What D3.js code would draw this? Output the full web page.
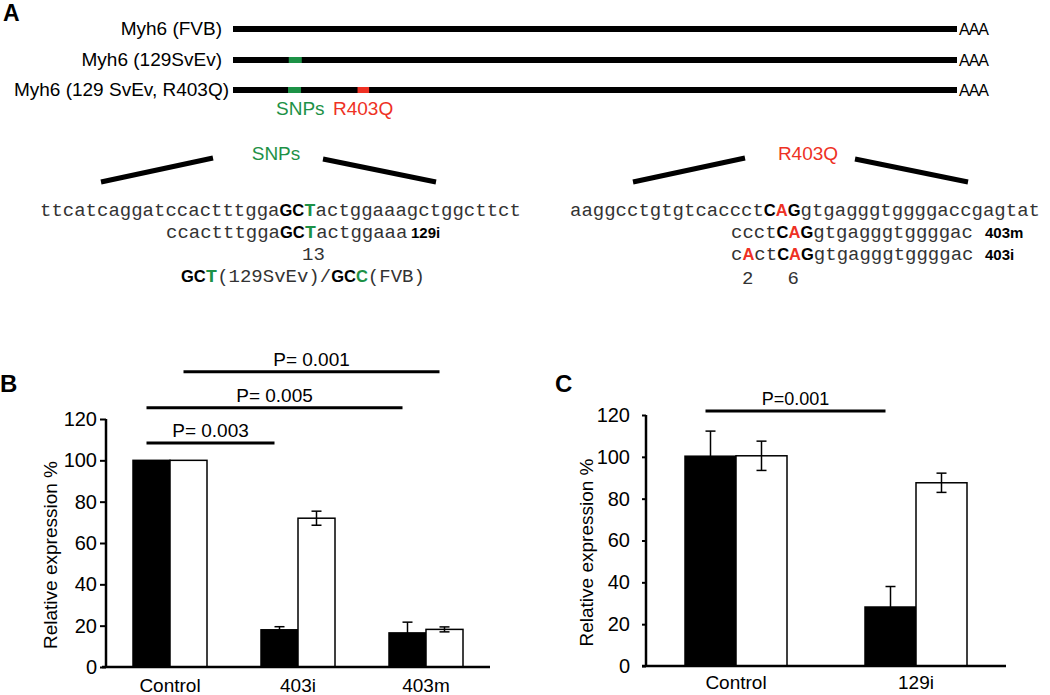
<!DOCTYPE html>
<html>
<head>
<meta charset="utf-8">
<script src="https://cdn.jsdelivr.net/npm/d3@7"></script>
<style>
  body { margin: 0; background: #fff; }
  svg { display: block; }
  text { font-family: "Liberation Sans", Arial, sans-serif; fill: #000; }
  .mono { font-family: "Liberation Mono", "Courier New", monospace; }
</style>
</head>
<body>
<svg id="fig" width="1050" height="695"></svg>
<script>
// ---- panel A data ----
var geneLabels = ["Myh6 (FVB)", "Myh6 (129SvEv)", "Myh6 (129 SvEv, R403Q)"];
// marks along the transcript, in % of its length
var geneMarks = [[], [["snp", 7.7, 9.5]], [["snp", 7.6, 9.4], ["mut", 17.2, 18.8]]];

// sequence rows: [text, style]  n=plain mono, b=bold, g=bold green, gm=bold green mono, r=bold red
var snpRows = [
  [["ttcatcaggatccactttgga","n"],["GC","b"],["T","gm"],["actggaaagctggcttct","n"]],
  [["ccactttgga","n"],["GC","b"],["T","gm"],["actggaaa","n"]],
  [["13","n"]],
  [["GC","b"],["T","gm"],["(129SvEv)/","n"],["GC","b"],["C","g"],["(FVB)","n"]]
];
var snpTags = ["", "129i", "", ""];
var mutRows = [
  [["aaggcctgtgtcaccct","n"],["C","b"],["A","r"],["G","b"],["gtgagggtggggaccgagtat","n"]],
  [["ccct","n"],["C","b"],["A","r"],["G","b"],["gtgagggtggggac","n"]],
  [["c","n"],["A","r"],["ct","n"],["C","b"],["A","r"],["G","b"],["gtgagggtggggac","n"]],
  [["2   6","n"]]
];
var mutTags = ["", "403m", "403i", ""];

// ---- panel B data ----
var bCats = ["Control", "403i", "403m"];
var bBlack = [100, 18, 16.5];
var bBlackErr = [0, 1.5, 5.2];
var bWhite = [100, 72, 18.2];
var bWhiteErr = [0, 3.4, 1.2];
var bSig = [
  {from: ["Control", 0], to: ["403i", 0], y: 108.4, label: "P= 0.003"},
  {from: ["Control", 0], to: ["403m", 0], y: 125.4, label: "P= 0.005"},
  {from: ["Control", 1], to: ["403m", 1], y: 142.9, label: "P= 0.001"}
];

// ---- panel C data ----
var cCats = ["Control", "129i"];
var cBlack = [100.3, 28.2];
var cBlackErr = [12, 9.8];
var cWhite = [100.5, 87.6];
var cWhiteErr = [7, 4.6];
var cSig = [
  {from: ["Control", 0], to: ["129i", 0], y: 121.9, label: "P=0.001"}
];

var yTicks = [0, 20, 40, 60, 80, 100, 120];

var svg = d3.select("#fig");
svg.append("rect").attr("width", 1050).attr("height", 695).attr("fill", "#fff");

var GREEN = "#1d9146", RED = "#ee3124";

// ---------- Panel A ----------
svg.append("text").attr("x", 3).attr("y", 21)
  .attr("font-size", 23).attr("font-weight", "bold").text("A");

var gx = d3.scaleLinear().domain([0, 100]).range([233, 957]);
var geneY = [29, 60, 90];
var labelRight = [222, 222, 229];

geneLabels.forEach(function(lab, i) {
  svg.append("line")
    .attr("x1", gx(0)).attr("x2", gx(100))
    .attr("y1", geneY[i]).attr("y2", geneY[i])
    .attr("stroke", "#000").attr("stroke-width", 6);
  geneMarks[i].forEach(function(m) {
    svg.append("rect")
      .attr("x", gx(m[1])).attr("width", gx(m[2]) - gx(m[1]))
      .attr("y", geneY[i] - 3).attr("height", 6)
      .attr("fill", m[0] == "snp" ? GREEN : RED);
  });
  svg.append("text").attr("x", labelRight[i]).attr("y", geneY[i] + 6)
    .attr("text-anchor", "end").attr("font-size", 19).text(lab);
  svg.append("text").attr("x", 959).attr("y", geneY[i] + 6)
    .attr("font-size", 16).attr("textLength", 30).text("AAA");
});
svg.append("text").attr("x", 276).attr("y", 115).attr("font-size", 19)
  .style("fill", GREEN).text("SNPs");
svg.append("text").attr("x", 333).attr("y", 115).attr("font-size", 19)
  .style("fill", RED).text("R403Q");

// zoom-out wedges
function wedge(cx, label, col) {
  svg.append("text").attr("x", cx).attr("y", 160).attr("text-anchor", "middle")
    .attr("font-size", 19).style("fill", col).text(label);
  svg.append("line").attr("x1", cx - 175).attr("y1", 182).attr("x2", cx - 63).attr("y2", 158)
    .attr("stroke", "#000").attr("stroke-width", 5);
  svg.append("line").attr("x1", cx + 47).attr("y1", 159).attr("x2", cx + 160).attr("y2", 182)
    .attr("stroke", "#000").attr("stroke-width", 5);
}
wedge(276, "SNPs", GREEN);
wedge(808, "R403Q", RED);

function seqRow(segs, x, y) {
  var t = svg.append("text").attr("x", x).attr("y", y).attr("xml:space", "preserve");
  segs.forEach(function(s) {
    var sp = t.append("tspan").text(s[0]);
    if (s[1] == "n") {
      sp.attr("class", "mono").attr("font-size", 19).style("fill", "#333");
    } else if (s[1] == "gm") {
      sp.attr("class", "mono").attr("font-size", 19).attr("font-weight", "bold").style("fill", GREEN);
    } else {
      sp.attr("font-size", 16.5).attr("font-weight", "bold")
        .style("fill", s[1] == "g" ? GREEN : s[1] == "r" ? RED : "#000");
    }
  });
}
var snpX = [40, 166, 302, 181], snpY = [216, 238, 260, 282];
snpRows.forEach(function(r, i) {
  seqRow(r, snpX[i], snpY[i]);
  if (snpTags[i]) svg.append("text").attr("x", 411).attr("y", snpY[i])
    .attr("font-size", 15).attr("font-weight", "bold").text(snpTags[i]);
});
var mutX = [570, 731, 731, 742], mutY = [216, 238, 260, 284];
mutRows.forEach(function(r, i) {
  seqRow(r, mutX[i], mutY[i]);
  if (mutTags[i]) svg.append("text").attr("x", 985).attr("y", mutY[i])
    .attr("font-size", 15).attr("font-weight", "bold").text(mutTags[i]);
});

// ---------- bar panels ----------
function barPanel(o) {
  var g = svg.append("g");
  var y = d3.scaleLinear().domain([0, 120]).range([o.y0, o.y1]);
  var x = d3.scaleBand().domain(o.cats).range([o.x0, o.x1]);
  var xi = d3.scaleBand().domain([0, 1]).range([-o.bw, o.bw]);
  var series = [o.black, o.white], errs = [o.blackErr, o.whiteErr];

  svg.append("text").attr("x", o.lx).attr("y", o.ly)
    .attr("font-size", 24).attr("font-weight", "bold").text(o.letter);

  series.forEach(function(vals, s) {
    g.selectAll(".bar" + s).data(vals).enter().append("rect")
      .attr("x", function(d, i) { return x(o.cats[i]) + x.bandwidth() / 2 + xi(s); })
      .attr("width", xi.bandwidth())
      .attr("y", function(d) { return y(d); })
      .attr("height", function(d) { return y(0) - y(d); })
      .attr("fill", s == 0 ? "#000" : "#fff")
      .attr("stroke", "#000").attr("stroke-width", 1.5);
  });
  series.forEach(function(vals, s) {
    vals.forEach(function(v, i) {
      var e = errs[s][i];
      if (!e) return;
      var cx = x(o.cats[i]) + x.bandwidth() / 2 + xi(s) + xi.bandwidth() / 2;
      var eg = g.append("g").attr("stroke", "#000").attr("stroke-width", 1.5);
      eg.append("line").attr("x1", cx).attr("x2", cx).attr("y1", y(v - e)).attr("y2", y(v + e));
      eg.append("line").attr("x1", cx - 5).attr("x2", cx + 5).attr("y1", y(v + e)).attr("y2", y(v + e));
      eg.append("line").attr("x1", cx - 5).attr("x2", cx + 5).attr("y1", y(v - e)).attr("y2", y(v - e));
    });
  });

  // axes
  var ya = g.append("g").attr("transform", "translate(" + o.x0 + ",0)")
    .call(d3.axisLeft(y).tickValues(yTicks).tickSize(o.tick).tickSizeOuter(0).tickPadding(o.pad));
  ya.select(".domain").attr("stroke-width", 2.5).attr("d", "M0," + y(0) + "V" + y(120));
  ya.selectAll(".tick line").attr("stroke-width", 2);
  ya.selectAll("text").attr("font-size", 20).attr("font-family", "Liberation Sans, Arial, sans-serif");

  var xa = g.append("g").attr("transform", "translate(0," + y(0) + ")")
    .call(d3.axisBottom(x).tickSize(0).tickPadding(o.xpad));
  xa.select(".domain").attr("stroke-width", 2.5).attr("d", "M" + (o.x0 - 4) + ",0H" + o.x1);
  xa.selectAll("text").attr("font-size", 19).attr("font-family", "Liberation Sans, Arial, sans-serif");

  svg.append("text")
    .attr("transform", "translate(" + o.tx + "," + ((o.y0 + o.y1) / 2 + 12) + ") rotate(-90)")
    .attr("text-anchor", "middle").attr("font-size", 19).text("Relative expression %");

  o.sig.forEach(function(s) {
    var xa1 = x(s.from[0]) + x.bandwidth() / 2 + xi(s.from[1]) + xi.bandwidth() / 2 - 5;
    var xa2 = x(s.to[0]) + x.bandwidth() / 2 + xi(s.to[1]) + xi.bandwidth() / 2 - 5;
    svg.append("line").attr("x1", xa1).attr("x2", xa2).attr("y1", y(s.y)).attr("y2", y(s.y))
      .attr("stroke", "#000").attr("stroke-width", 3);
    svg.append("text").attr("x", (xa1 + xa2) / 2).attr("y", y(s.y) - 6)
      .attr("text-anchor", "middle").attr("font-size", o.pfont).text(s.label);
  });
}

barPanel({letter: "B", lx: 0, ly: 392, cats: bCats, black: bBlack, white: bWhite,
  blackErr: bBlackErr, whiteErr: bWhiteErr, sig: bSig, pfont: 19,
  x0: 106, x1: 490, y0: 667, y1: 419, bw: 37, tick: 6, pad: 3, xpad: 12, tx: 57});
barPanel({letter: "C", lx: 555, ly: 392, cats: cCats, black: cBlack, white: cWhite,
  blackErr: cBlackErr, whiteErr: cWhiteErr, sig: cSig, pfont: 18,
  x0: 646, x1: 1006, y0: 666, y1: 415, bw: 51, tick: 4, pad: 12, xpad: 10, tx: 593});
</script>
</body>
</html>
